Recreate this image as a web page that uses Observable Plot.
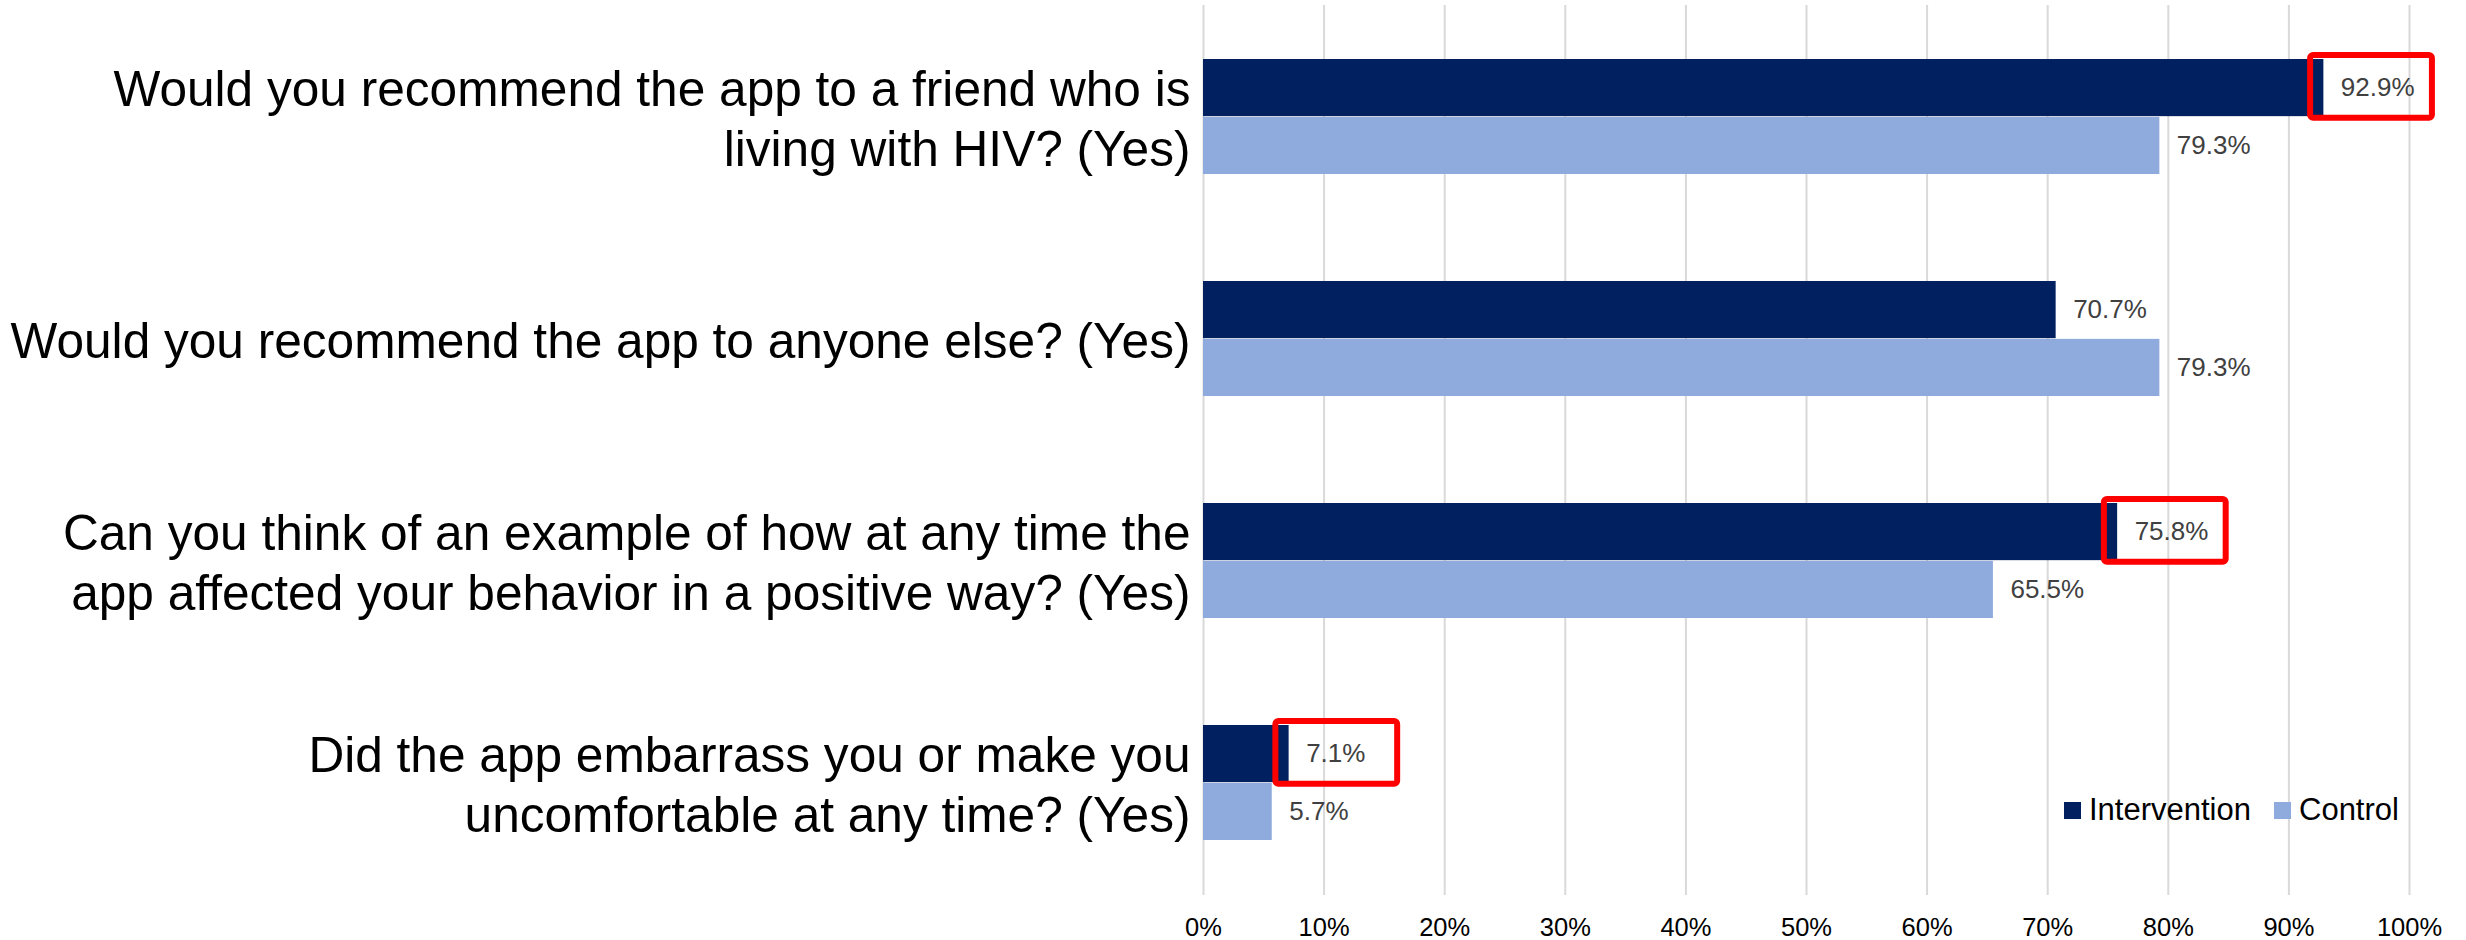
<!DOCTYPE html>
<html>
<head>
<meta charset="utf-8">
<script src="https://cdn.jsdelivr.net/npm/d3@7"></script>
<script src="https://cdn.jsdelivr.net/npm/@observablehq/plot@0.6"></script>
<style>
  html, body { margin: 0; padding: 0; background: #fff; }
  #wrap { position: relative; width: 2466px; height: 940px; font-family: "Liberation Sans", Arial, sans-serif; }
  #legend { position: absolute; left: 2064px; top: 792px; }
  .lg-swatches { font-family: "Liberation Sans", Arial, sans-serif !important; font-size: 31px !important; color: #000; }
  .lg-swatch { margin-right: 23px !important; }
  .lg-swatch > svg { margin-right: 8px !important; }
</style>
</head>
<body>
<div id="wrap"><div id="chart"></div><div id="legend"></div></div>
<script>
// ---- data ----
const questions = [
  "Would you recommend the app to a friend who is\nliving with HIV? (Yes)",
  "Would you recommend the app to anyone else? (Yes)",
  "Can you think of an example of how at any time the\napp affected your behavior in a positive way? (Yes)",
  "Did the app embarrass you or make you\nuncomfortable at any time? (Yes)"
];
const series = ["Intervention", "Control"];
const intervention = [92.9, 70.7, 75.8, 7.1];
const control = [79.3, 79.3, 65.5, 5.7];
const highlighted = [true, false, true, true];
const xTicks = [0, 10, 20, 30, 40, 50, 60, 70, 80, 90, 100];
const seriesColors = ["#002060", "#8FAADC"];

// ---- layout ----
const width = 2466, height = 940;
const marginTop = 5, marginBottom = 45, marginLeft = 1203, marginRight = 57;
const padInner = 0.48, padOuter = 0.24;
const step = (height - marginTop - marginBottom) / (questions.length - padInner + 2 * padOuter);
const half = step * (1 - padInner) / 2;

const rows = questions.flatMap((q, i) => [
  {q, series: series[0], value: intervention[i], hl: highlighted[i]},
  {q, series: series[1], value: control[i], hl: false}
]);
const interRows = rows.filter(d => d.series === series[0]);
const ctrlRows = rows.filter(d => d.series === series[1]);
const font = "Liberation Sans, Arial, sans-serif";

const plot = Plot.plot({
  width, height, marginTop, marginBottom, marginLeft, marginRight,
  style: {fontFamily: font, background: "white", overflow: "visible"},
  x: {domain: [0, 100], axis: null},
  y: {domain: questions, paddingInner: padInner, paddingOuter: padOuter, axis: null},
  color: {domain: series, range: seriesColors},
  marks: [
    Plot.gridX(xTicks, {stroke: "#d9d9d9", strokeOpacity: 1, strokeWidth: 2}),
    Plot.axisX(xTicks, {tickSize: 0, tickPadding: 22, tickFormat: d => d + "%", fontSize: 25.5, fill: "#000", label: null}),
    Plot.barX(interRows, {y: "q", x: "value", fill: "series", insetBottom: half}),
    Plot.barX(ctrlRows, {y: "q", x: "value", fill: "series", insetTop: half}),
    Plot.text(interRows, {y: "q", x: "value", text: d => d.value.toFixed(1) + "%", dx: 17, dy: -half / 2, textAnchor: "start", fill: "#404040", fontSize: 26}),
    Plot.text(ctrlRows, {y: "q", x: "value", text: d => d.value.toFixed(1) + "%", dx: 17, dy: half / 2, textAnchor: "start", fill: "#404040", fontSize: 26}),
    Plot.barX(interRows.filter(d => d.hl), {y: "q", x1: d => d.value - 1.1, x2: d => d.value + 9.0, fill: "none", stroke: "#ff0000", strokeWidth: 6, insetTop: -4, insetBottom: half - 1.5, rx: 3}),
    Plot.text(questions, {y: d => d, text: d => d, frameAnchor: "left", textAnchor: "end", dx: -13, fontSize: 49.6, lineHeight: 1.21, fill: "#000"})
  ]
});
document.getElementById("chart").appendChild(plot);

const legend = Plot.legend({
  color: {domain: series, range: seriesColors},
  swatchSize: 17,
  className: "lg",
  style: {fontSize: "31px", fontFamily: font}
});
document.getElementById("legend").appendChild(legend);
</script>
</body>
</html>
